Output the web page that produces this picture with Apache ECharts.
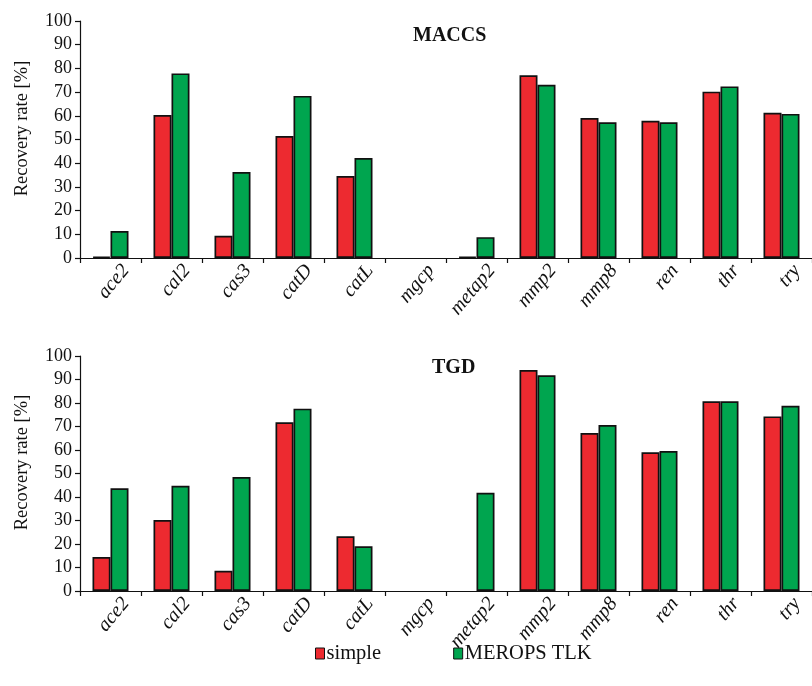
<!DOCTYPE html>
<html>
<head>
<meta charset="utf-8">
<script src="https://cdn.jsdelivr.net/npm/echarts@6/dist/echarts.min.js"></script>
<style>
  html, body { margin: 0; padding: 0; background: #fff; }
  #chart { width: 812px; height: 686px; }
</style>
</head>
<body>
<div id="chart"></div>
<script>
// Protease targets
const categories = ['ace2', 'cal2', 'cas3', 'catD', 'catL', 'mgcp', 'metap2', 'mmp2', 'mmp8', 'ren', 'thr', 'try'];

// Recovery rates [%] with MACCS fingerprints
const maccsSimple = [0.5, 60.3, 9.4, 51.5, 34.6, 0, 0.5, 77.1, 59.1, 57.9, 70.2, 61.3];
const maccsMerops = [11.4, 77.9, 36.3, 68.4, 42.2, 0, 8.8, 73.1, 57.3, 57.3, 72.4, 60.8];

// Recovery rates [%] with TGD descriptors
const tgdSimple = [14.5, 30.2, 8.6, 71.8, 23.3, 0, 0, 94.0, 67.2, 59.0, 80.7, 74.3];
const tgdMerops = [43.7, 44.8, 48.5, 77.6, 19.0, 0, 41.8, 91.8, 70.6, 59.6, 80.7, 78.8];

const yTicks = { min: 0, max: 100, interval: 10 };
const seriesNames = ['simple', 'MEROPS TLK'];
const panelTitles = ['MACCS', 'TGD'];

const serif = '"Liberation Serif", "DejaVu Serif", serif';
const RED = '#ED2A30';
const GREEN = '#00A54F';

function yAxisFor(gridIndex) {
  return {
    type: 'value', gridIndex,
    min: yTicks.min, max: yTicks.max, interval: yTicks.interval,
    name: 'Recovery rate [%]',
    nameLocation: 'middle', nameGap: 48,
    nameTextStyle: { fontFamily: serif, fontSize: 18.5, color: '#111', padding: [0, 0, 0, 22] },
    axisLine: { show: true, lineStyle: { color: '#111', width: 1.2 } },
    axisTick: { show: true, length: 5, lineStyle: { color: '#111', width: 1.2 } },
    axisLabel: { fontFamily: serif, fontSize: 18, color: '#111', margin: 8 },
    splitLine: { show: false }
  };
}

function xAxisFor(gridIndex) {
  return {
    type: 'category', gridIndex, data: categories,
    axisLine: { show: true, lineStyle: { color: '#111', width: 1.2 } },
    axisTick: { show: true, length: 5, lineStyle: { color: '#111', width: 1.2 } },
    axisLabel: {
      interval: 0, rotate: 50, margin: 12,
      align: 'right', verticalAlign: 'top', padding: [0, -12, 0, 0],
      fontFamily: serif, fontSize: 20, fontStyle: 'italic', color: '#111'
    }
  };
}

// zero-height bars are left undrawn (no outline)
function barData(values) {
  return values.map(v => v === 0 ? { value: 0, itemStyle: { borderWidth: 0 } } : v);
}

function barSeries(name, values, idx, color) {
  return {
    name, type: 'bar', data: barData(values),
    xAxisIndex: idx, yAxisIndex: idx,
    barWidth: 18, barGap: '0%',
    itemStyle: { color, borderColor: '#111', borderWidth: 1.7 },
    emphasis: { disabled: true }
  };
}

const titleStyle = { fontFamily: serif, fontSize: 20, fontWeight: 'bold', color: '#111' };

const chart = echarts.init(document.getElementById('chart'), null, { renderer: 'canvas' });
chart.setOption({
  animation: false,
  backgroundColor: '#fff',
  title: [
    { text: panelTitles[0], left: 408, top: 21, textStyle: titleStyle },
    { text: panelTitles[1], left: 427, top: 353, textStyle: titleStyle }
  ],
  legend: {
    data: seriesNames,
    left: 310, top: 638,
    icon: 'rect', itemWidth: 9, itemHeight: 11, itemGap: 72,
    itemStyle: { borderColor: '#111', borderWidth: 1 },
    textStyle: { fontFamily: serif, fontSize: 20.5, color: '#111', padding: [0, 0, 0, -3] }
  },
  grid: [
    { left: 80, top: 21, width: 739, height: 237 },
    { left: 80, top: 356, width: 739, height: 235 }
  ],
  xAxis: [xAxisFor(0), xAxisFor(1)],
  yAxis: [yAxisFor(0), yAxisFor(1)],
  series: [
    barSeries(seriesNames[0], maccsSimple, 0, RED),
    barSeries(seriesNames[1], maccsMerops, 0, GREEN),
    barSeries(seriesNames[0], tgdSimple, 1, RED),
    barSeries(seriesNames[1], tgdMerops, 1, GREEN)
  ]
});
</script>
</body>
</html>
